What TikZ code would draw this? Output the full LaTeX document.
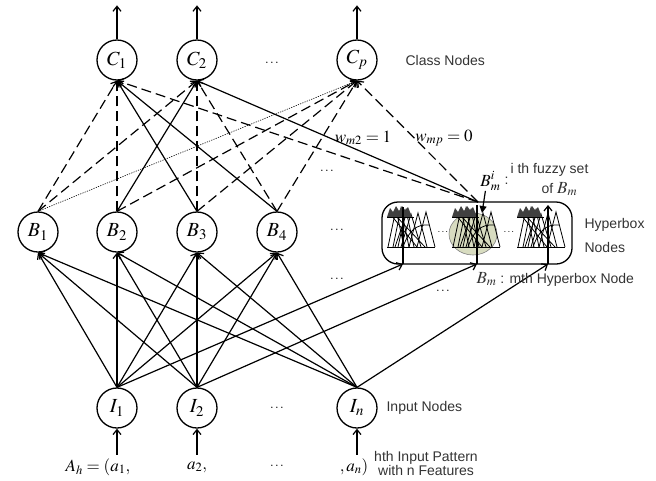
\documentclass[tikz,border=0pt]{standalone}
\usepackage{mathptmx}
\usepackage{fontspec}
\setmainfont{Liberation Serif}
\setsansfont{Liberation Sans}
\usetikzlibrary{arrows.meta}
\definecolor{hboxfill}{RGB}{216,220,192}
\newcommand\fzcluster[1]{%
\begin{scope}[shift={(#1,0)}, line width=0.8pt]
 \draw (0,247) -- (48,247);
 \draw (1,247) -- (9,209) -- (17,247);
 \draw (6,247) -- (14,208) -- (22,247);
 \draw (11,247) -- (19,210) -- (27,247);
 \draw (14,247) -- (24,214) -- (34,247);
 \draw (22,247) -- (31,213) -- (40,247);
 \draw (30,247) -- (39,212) -- (48,247);
 \draw (4,215) -- (30,247);
 \draw (20,212) -- (8,247);
 \draw (9,216) -- (38,247);
 \fill[black!75] (0,217) -- (3,208) -- (6,212) -- (9,206) -- (12,211) -- (15,206) -- (18,210) -- (21,207) -- (25,217) -- cycle;
 \draw (0,217) -- (27,217);
 \draw (16,247) .. controls (22,230) and (30,224) .. (42,225);
\end{scope}}
\newcommand\lgmath[1]{{\fontsize{17}{17}\selectfont$#1$}}
\begin{document}
\begin{tikzpicture}[x=1pt,y=-1pt,line width=1.2pt,
  neuron/.style={circle, draw, line width=1.3pt, minimum size=40pt, inner sep=0pt, font=\fontsize{20}{20}\selectfont},
  lbl/.style={font=\sffamily\fontsize{14}{16}\selectfont, text=black!80, inner sep=0pt},
  wt/.style={font=\fontsize{17}{17}\selectfont, inner sep=0pt},
  dotsl/.style={font=\fontsize{13}{13}\selectfont, inner sep=0pt},
  conn/.style={-{Straight Barb[length=5pt,width=8pt]}},
  dashz/.style={dash pattern=on 10pt off 5pt},
  dotl/.style={line width=0.6pt, dash pattern=on 1.2pt off 1.2pt}]
\useasboundingbox (0,0) rectangle (656,480);

% hyperbox
\fill[hboxfill, draw=black!50, line width=0.6pt] (473,234) ellipse [x radius=24pt, y radius=21pt];
\fzcluster{387}
\fzcluster{452}
\fzcluster{517}
\node[draw, rounded corners=16pt, line width=1.3pt, minimum width=190pt, minimum height=62pt, inner sep=0pt] (HB) at (477,233) {};
\node[dotsl] (hd1) at (443,232) {\fontsize{10}{10}\selectfont$\ldots$};
\node[dotsl] (hd2) at (509,232) {\fontsize{10}{10}\selectfont$\ldots$};
\coordinate (hb1) at (403,264);
\coordinate (hb2) at (477,264);
\coordinate (hb3) at (548,264);
\coordinate (hb1t) at (403,207);
\coordinate (hb2t) at (477,205);
\coordinate (hb3t) at (548,205);
\coordinate (bm) at (478,202);
\draw (hb1) -- (hb1t);
\draw (hb2) -- (hb2t);
\draw[conn] (hb3) -- (hb3t);

% nodes
\node[neuron] (C1) at (117,60) {$C_1$};
\node[neuron] (C2) at (197,60) {$C_2$};
\node[neuron] (Cp) at (357,60) {$C_p$};
\node[neuron] (B1) at (38,232) {$B_1$};
\node[neuron] (B2) at (117,232) {$B_2$};
\node[neuron] (B3) at (197,232) {$B_3$};
\node[neuron] (B4) at (277,232) {$B_4$};
\node[neuron] (I1) at (117,408) {$I_1$};
\node[neuron] (I2) at (197,408) {$I_2$};
\node[neuron] (In) at (357,408) {$I_n$};

% outputs and inputs
\foreach \c in {C1,C2,Cp} \draw[conn] (\c.north) -- ([yshift=34pt]\c.north);
\foreach \i in {I1,I2,In} \draw[conn] ([yshift=-26pt]\i.south) -- (\i.south);

% input to hyperbox layer
\foreach \i in {I1,I2,In}{\foreach \b in {B1,B2,B3,B4}{\draw[conn] (\i.north) -- (\b.south);}}
\draw[conn] (I1.north) -- (hb1);
\draw[conn] (I2.north) -- (hb2);
\draw[conn] (In.north) -- (hb3);

% hyperbox to class layer
\draw[conn,dashz] (B1.north) -- (C1.south);
\draw[conn,dashz] (B1.north) -- (C2.south);
\draw[dotl] (B1.north) -- (Cp.south);
\draw[conn,dashz] (B2.north) -- (C1.south);
\draw[conn] (B2.north) -- (C2.south);
\draw[conn,dashz] (B2.north) -- (Cp.south);
\draw[conn] (B3.north) -- (C1.south);
\draw[conn,dashz] (B3.north) -- (C2.south);
\draw[conn,dashz] (B3.north) -- (Cp.south);
\draw[conn] (B4.north) -- (C1.south);
\draw[conn,dashz] (B4.north) -- (C2.south);
\draw[conn,dashz] (B4.north) -- (Cp.south);
\draw[conn,dashz] (bm) -- (C1.south);
\draw[conn] (bm) -- (C2.south);
\draw[conn,dashz] (bm) -- (Cp.south);

% labels
\node[wt] (w2) at (363,138) {$w_{m2} =1$};
\node[wt] (wp) at (444,138) {$w_{mp} = 0$};
\node[lbl, anchor=west] (cls) at (405,60) {Class Nodes};
\node[lbl, anchor=west, align=left, font=\sffamily\fontsize{14}{24}\selectfont] (hbn) at (584,235) {Hyperbox\\Nodes};
\node[lbl, anchor=west] (inn) at (386,408) {Input Nodes};
\node[lbl, align=center, font=\sffamily\fontsize{14}{14}\selectfont] (hth) at (426,463) {hth Input Pattern\\with n Features};
\node[lbl, anchor=west] (bmn) at (476,279) {\lgmath{B_m} : mth Hyperbox Node};
\node[wt, anchor=east] (Bmi) at (501,181) {$B_m^i$};
\node[lbl, anchor=west] (colon) at (504,181) {:};
\node[lbl, anchor=west] (ith) at (510,170) {i th fuzzy set};
\node[lbl, anchor=west] (ofb) at (541,189) {of \lgmath{B_m}};
\coordinate (bmia) at (482,213);
\draw[-{Triangle[length=7pt,width=7pt]}] ([xshift=-5pt]Bmi.south) -- (bmia);

% inputs text
\node[wt] (Ah) at (98,467) {$A_h = (a_1,$};
\node[wt] (a2) at (197,467) {$a_2,$};
\node[dotsl] (ad) at (277,466) {$\ldots$};
\node[wt] (an) at (354,467) {$,a_n)$};

% dots
\node[dotsl] at (272,63) {$\ldots$};
\node[dotsl] at (277,408) {$\ldots$};
\node[dotsl] at (327,171) {$\ldots$};
\node[dotsl] at (337,230) {$\ldots$};
\node[dotsl] at (337,279) {$\ldots$};
\node[dotsl] at (443,291) {$\ldots$};
\end{tikzpicture}
\end{document}
